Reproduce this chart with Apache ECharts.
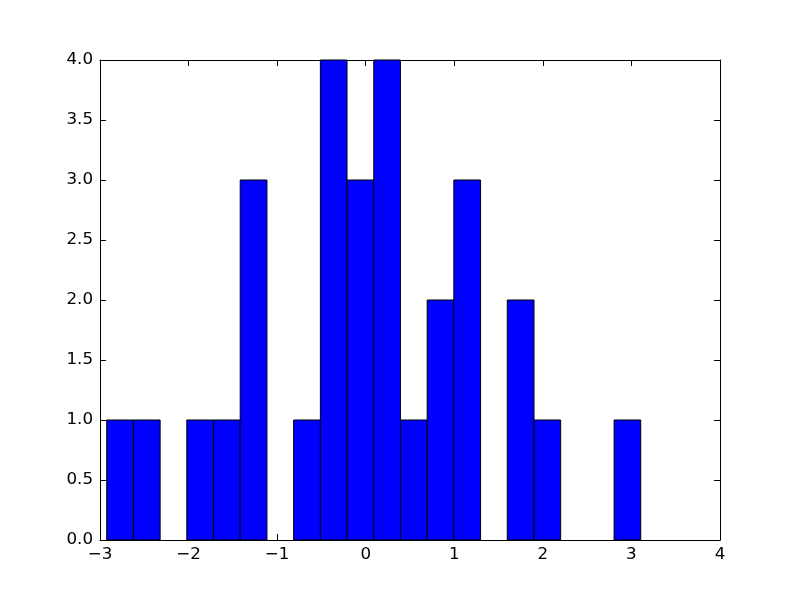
<!DOCTYPE html>
<html>
<head>
<meta charset="utf-8">
<script src="https://cdn.jsdelivr.net/npm/echarts@6/dist/echarts.min.js"></script>
<style>html,body{margin:0;padding:0;background:#fff}#c{width:800px;height:600px}</style>
</head>
<body>
<div id="c"></div>
<script>
// Histogram bin edges (21 edges, 20 bins) and counts
var binEdges = [-2.924, -2.623, -2.321, -2.020, -1.718, -1.417, -1.115, -0.814, -0.512, -0.211,
                0.091, 0.392, 0.694, 0.995, 1.297, 1.598, 1.900, 2.201, 2.503, 2.804, 3.105];
var counts = [1, 1, 0, 1, 1, 3, 0, 1, 4, 3, 4, 1, 2, 3, 0, 2, 1, 0, 0, 1];
var xTicks = [-3, -2, -1, 0, 1, 2, 3, 4];
var yTicks = [0, 0.5, 1, 1.5, 2, 2.5, 3, 3.5, 4];

var data = counts.map(function (c, i) { return [binEdges[i], binEdges[i + 1], c]; });

var font = 'DejaVu Sans';
var fsize = 16.7;
function fmtX(v) { return String(v).replace('-', '\u2212'); }
function fmtY(v) { return v.toFixed(1); }

var chart = echarts.init(document.getElementById('c'), null, { renderer: 'canvas' });
var axisCommon = {
  type: 'value',
  axisLine: { show: true, onZero: false, lineStyle: { color: '#000', width: 1 } },
  axisTick: { show: true, inside: true, length: 6, lineStyle: { color: '#000', width: 1 } },
  splitLine: { show: false }
};
chart.setOption({
  animation: false,
  backgroundColor: '#fff',
  grid: { left: 100, right: 80, top: 60, bottom: 60, containLabel: false },
  xAxis: [
    Object.assign({}, axisCommon, {
      position: 'bottom', min: xTicks[0], max: xTicks[xTicks.length - 1], interval: 1,
      axisLabel: { show: true, margin: 6, color: '#000', fontFamily: font, fontSize: fsize, formatter: fmtX }
    }),
    Object.assign({}, axisCommon, {
      position: 'top', min: xTicks[0], max: xTicks[xTicks.length - 1], interval: 1,
      axisLabel: { show: false }
    })
  ],
  yAxis: [
    Object.assign({}, axisCommon, {
      position: 'left', min: yTicks[0], max: yTicks[yTicks.length - 1], interval: 0.5,
      axisLabel: { show: true, margin: 7, color: '#000', fontFamily: font, fontSize: fsize, formatter: fmtY }
    }),
    Object.assign({}, axisCommon, {
      position: 'right', min: yTicks[0], max: yTicks[yTicks.length - 1], interval: 0.5,
      axisLabel: { show: false }
    })
  ],
  series: [{
    type: 'custom',
    xAxisIndex: 0, yAxisIndex: 0,
    data: data,
    renderItem: function (params, api) {
      var x0 = api.value(0), x1 = api.value(1), c = api.value(2);
      if (c <= 0) return null;
      var p0 = api.coord([x0, c]);
      var p1 = api.coord([x1, 0]);
      return {
        type: 'rect',
        shape: { x: p0[0], y: p0[1], width: p1[0] - p0[0], height: p1[1] - p0[1] },
        style: { fill: '#0000ff', stroke: '#000', lineWidth: 1 }
      };
    }
  }]
});
</script>
</body>
</html>
